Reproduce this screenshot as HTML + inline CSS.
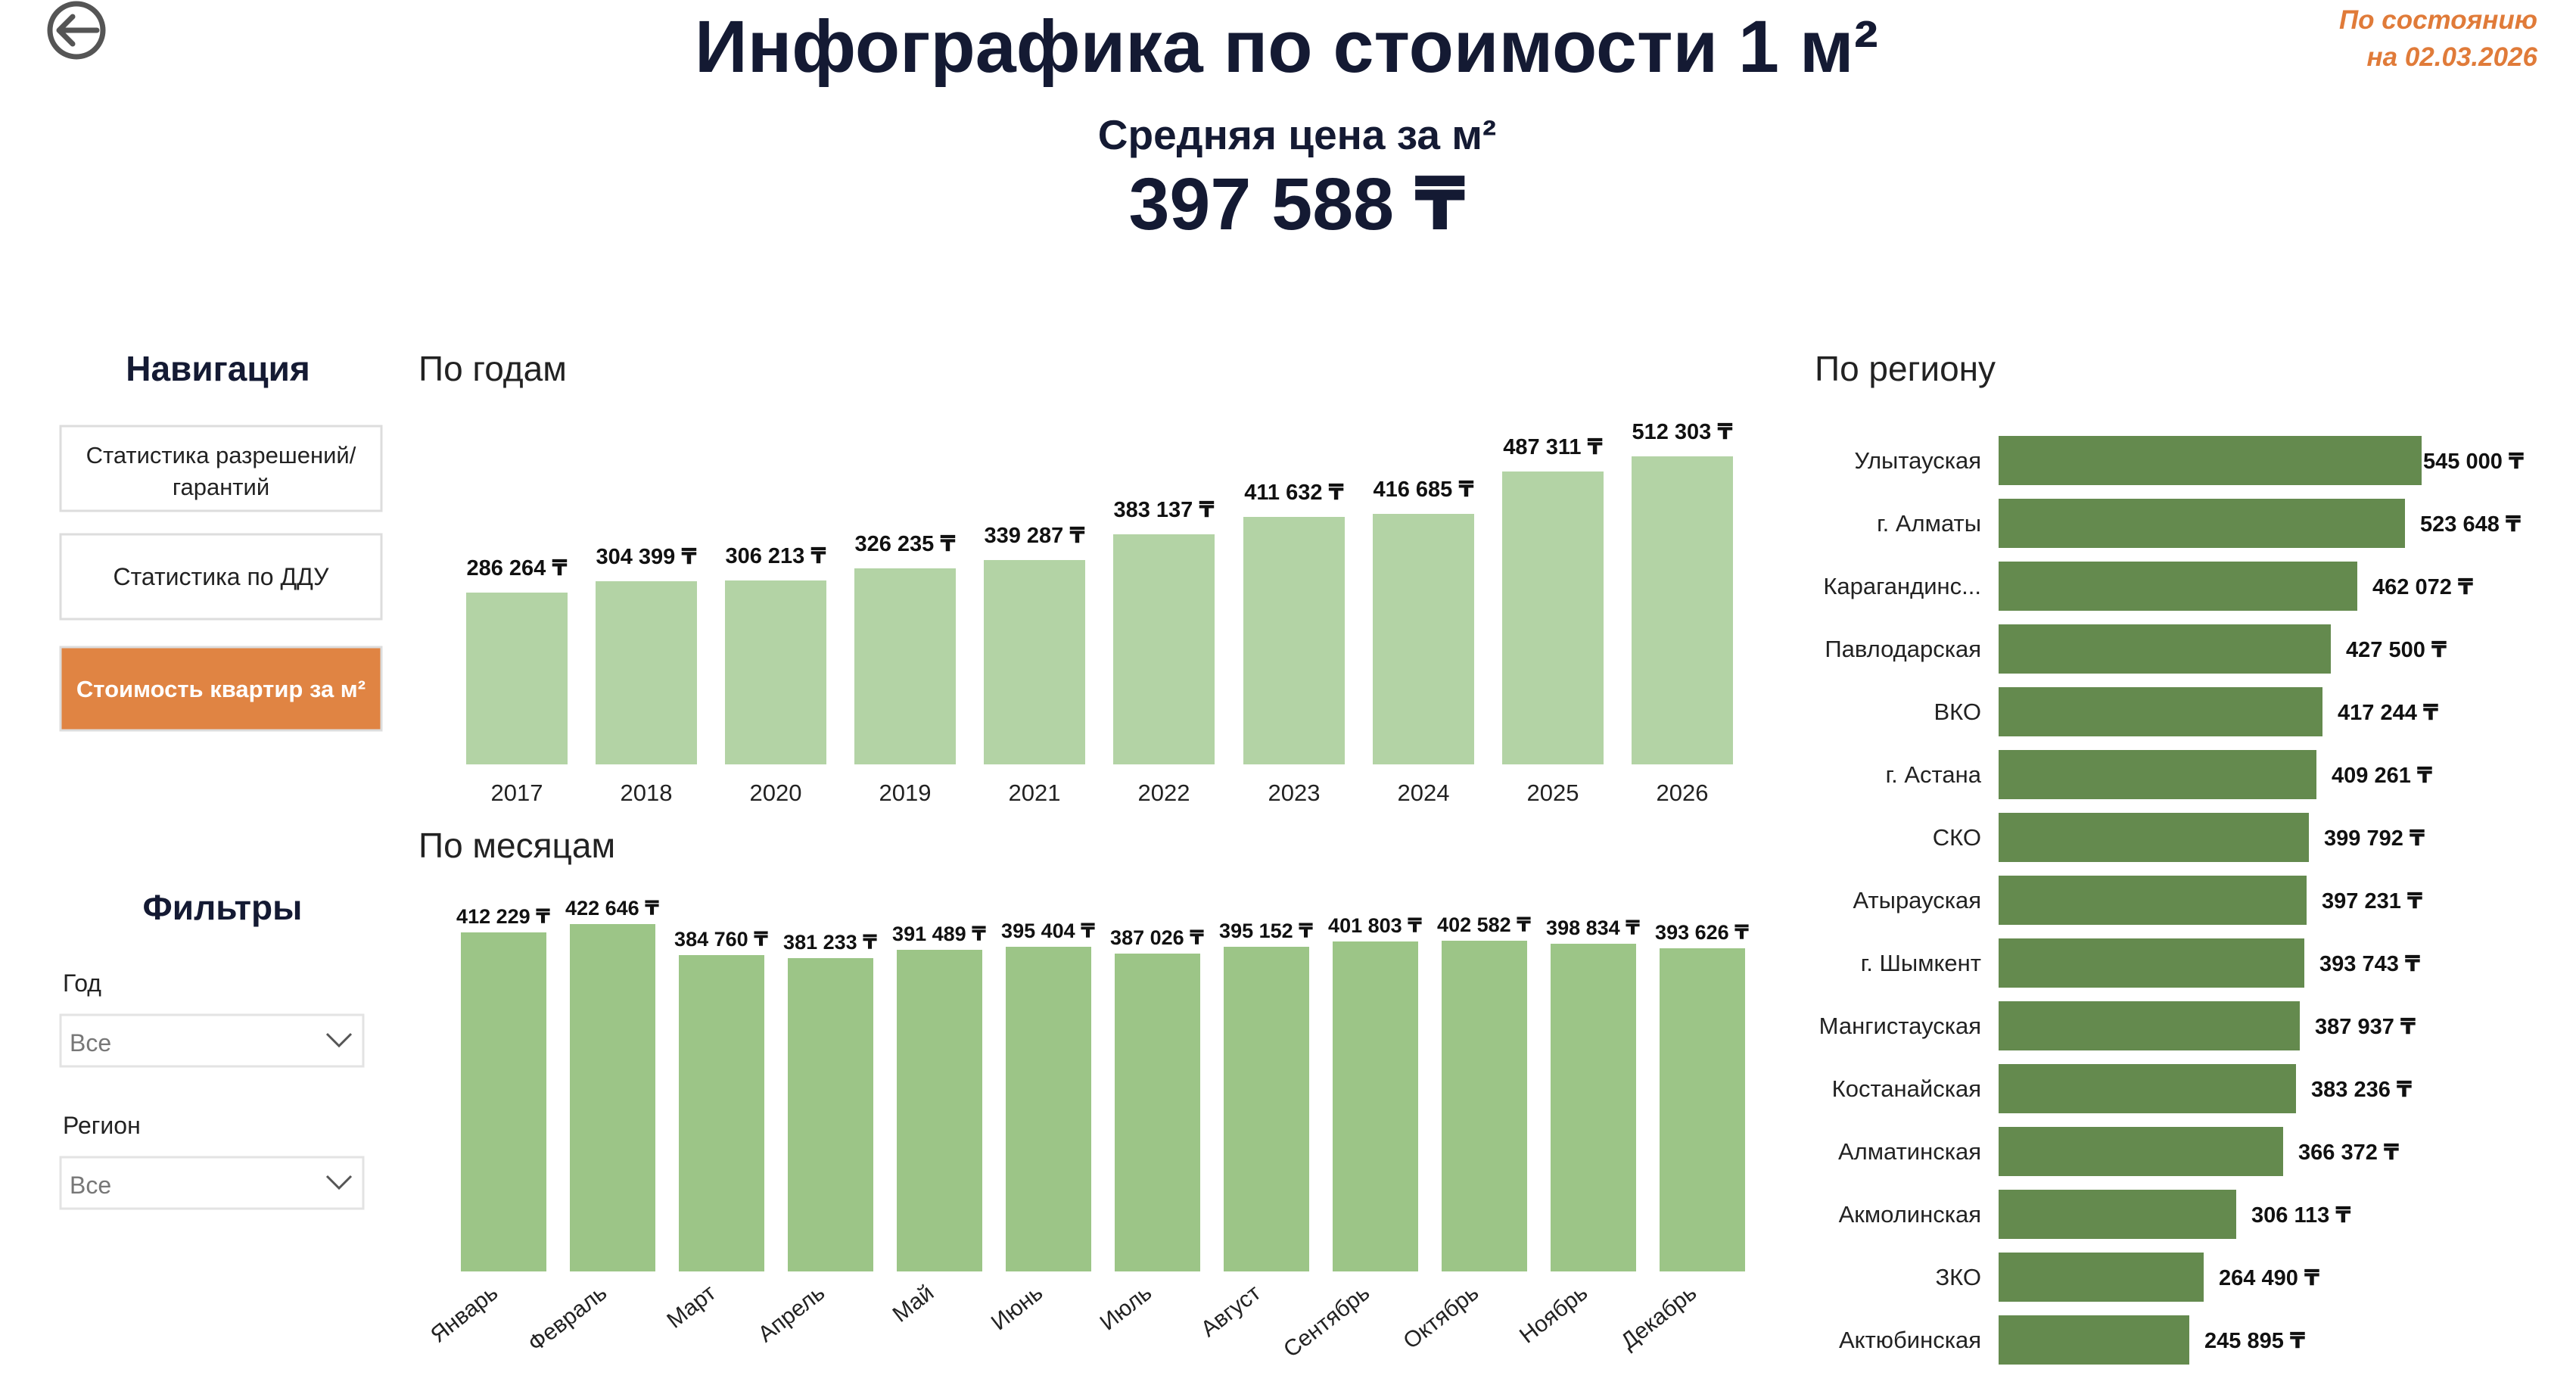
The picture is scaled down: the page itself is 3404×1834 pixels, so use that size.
<!DOCTYPE html>
<html><head><meta charset="utf-8"><style>
html,body{margin:0;padding:0;background:#fff;}
svg{display:block;font-family:"Liberation Sans","DejaVu Sans",sans-serif;}
</style></head><body>
<svg width="3404" height="1834" viewBox="0 0 3404 1834" xmlns="http://www.w3.org/2000/svg">
<circle cx="101" cy="40" r="35" fill="none" stroke="#555" stroke-width="7"/>
<path d="M128 40 H78 M96 22 L78 40 L96 58" fill="none" stroke="#555" stroke-width="7" stroke-linecap="round" stroke-linejoin="round"/>
<text x="1700" y="95" text-anchor="middle" font-size="97" font-weight="bold" fill="#141a33">Инфографика по стоимости 1 м²</text>
<text x="1714" y="197" text-anchor="middle" font-size="55" font-weight="bold" fill="#141a33">Средняя цена за м²</text>
<text x="1714" y="303" text-anchor="middle" font-size="97" font-weight="bold" fill="#141a33">397 588 ₸</text>
<text x="3353" y="38" text-anchor="end" font-size="35" font-weight="bold" font-style="italic" fill="#e07b39">По состоянию</text>
<text x="3353" y="87" text-anchor="end" font-size="35" font-weight="bold" font-style="italic" fill="#e07b39">на 02.03.2026</text>

<text x="288" y="503" text-anchor="middle" font-size="46" font-weight="bold" fill="#141a33">Навигация</text>
<rect x="80" y="563" width="424" height="112" fill="#fff" stroke="#ddd" stroke-width="3"/>
<text x="292" y="612" text-anchor="middle" font-size="31" fill="#222">Статистика разрешений/</text>
<text x="292" y="654" text-anchor="middle" font-size="31" fill="#222">гарантий</text>
<rect x="80" y="706" width="424" height="112" fill="#fff" stroke="#ddd" stroke-width="3"/>
<text x="292" y="773" text-anchor="middle" font-size="32" fill="#222">Статистика по ДДУ</text>
<rect x="80" y="855" width="424" height="110" fill="#e08443" stroke="#ddd" stroke-width="3"/>
<text x="292" y="921" text-anchor="middle" font-size="31" font-weight="bold" fill="#fff">Стоимость квартир за м²</text>

<text x="294" y="1215" text-anchor="middle" font-size="46" font-weight="bold" fill="#141a33">Фильтры</text>
<text x="83" y="1310" font-size="32" fill="#222">Год</text>
<rect x="80" y="1341" width="400" height="68" fill="#fff" stroke="#e3e3e3" stroke-width="3"/>
<text x="92" y="1389" font-size="32" fill="#777">Все</text>
<path d="M432 1366 L448 1382 L464 1366" fill="none" stroke="#555" stroke-width="3"/>
<text x="83" y="1498" font-size="32" fill="#222">Регион</text>
<rect x="80" y="1529" width="400" height="68" fill="#fff" stroke="#e3e3e3" stroke-width="3"/>
<text x="92" y="1577" font-size="32" fill="#777">Все</text>
<path d="M432 1554 L448 1570 L464 1554" fill="none" stroke="#555" stroke-width="3"/>

<text x="553" y="503" font-size="46" fill="#222">По годам</text>
<text x="553" y="1133" font-size="46" fill="#222">По месяцам</text>
<text x="2398" y="503" font-size="46" fill="#222">По региону</text>

<g fill="#b3d3a5">
<rect x="616" y="783" width="134" height="227"/>
<rect x="787" y="768" width="134" height="242"/>
<rect x="958" y="767" width="134" height="243"/>
<rect x="1129" y="751" width="134" height="259"/>
<rect x="1300" y="740" width="134" height="270"/>
<rect x="1471" y="706" width="134" height="304"/>
<rect x="1643" y="683" width="134" height="327"/>
<rect x="1814" y="679" width="134" height="331"/>
<rect x="1985" y="623" width="134" height="387"/>
<rect x="2156" y="603" width="134" height="407"/>
</g>
<g font-size="29" font-weight="bold" text-anchor="middle" fill="#111">
<text x="683" y="760">286 264 ₸</text>
<text x="854" y="745">304 399 ₸</text>
<text x="1025" y="744">306 213 ₸</text>
<text x="1196" y="728">326 235 ₸</text>
<text x="1367" y="717">339 287 ₸</text>
<text x="1538" y="683">383 137 ₸</text>
<text x="1710" y="660">411 632 ₸</text>
<text x="1881" y="656">416 685 ₸</text>
<text x="2052" y="600">487 311 ₸</text>
<text x="2223" y="580">512 303 ₸</text>
</g>
<g font-size="31" text-anchor="middle" fill="#222">
<text x="683" y="1058">2017</text><text x="854" y="1058">2018</text><text x="1025" y="1058">2020</text>
<text x="1196" y="1058">2019</text><text x="1367" y="1058">2021</text><text x="1538" y="1058">2022</text>
<text x="1710" y="1058">2023</text><text x="1881" y="1058">2024</text><text x="2052" y="1058">2025</text>
<text x="2223" y="1058">2026</text>
</g>

<g fill="#9cc587">
<rect x="609" y="1232" width="113" height="448"/>
<rect x="753" y="1221" width="113" height="459"/>
<rect x="897" y="1262" width="113" height="418"/>
<rect x="1041" y="1266" width="113" height="414"/>
<rect x="1185" y="1255" width="113" height="425"/>
<rect x="1329" y="1251" width="113" height="429"/>
<rect x="1473" y="1260" width="113" height="420"/>
<rect x="1617" y="1251" width="113" height="429"/>
<rect x="1761" y="1244" width="113" height="436"/>
<rect x="1905" y="1243" width="113" height="437"/>
<rect x="2049" y="1247" width="113" height="433"/>
<rect x="2193" y="1253" width="113" height="427"/>
</g>
<g font-size="27" font-weight="bold" text-anchor="middle" fill="#111">
<text x="665" y="1220">412 229 ₸</text>
<text x="809" y="1209">422 646 ₸</text>
<text x="953" y="1250">384 760 ₸</text>
<text x="1097" y="1254">381 233 ₸</text>
<text x="1241" y="1243">391 489 ₸</text>
<text x="1385" y="1239">395 404 ₸</text>
<text x="1529" y="1248">387 026 ₸</text>
<text x="1673" y="1239">395 152 ₸</text>
<text x="1817" y="1232">401 803 ₸</text>
<text x="1961" y="1231">402 582 ₸</text>
<text x="2105" y="1235">398 834 ₸</text>
<text x="2249" y="1241">393 626 ₸</text>
</g>
<g font-size="30" text-anchor="end" fill="#222">
<text transform="translate(660,1712) rotate(-38)">Январь</text>
<text transform="translate(804,1712) rotate(-38)">Февраль</text>
<text transform="translate(948,1712) rotate(-38)">Март</text>
<text transform="translate(1092,1712) rotate(-38)">Апрель</text>
<text transform="translate(1236,1712) rotate(-38)">Май</text>
<text transform="translate(1380,1712) rotate(-38)">Июнь</text>
<text transform="translate(1524,1712) rotate(-38)">Июль</text>
<text transform="translate(1668,1712) rotate(-38)">Август</text>
<text transform="translate(1812,1712) rotate(-38)">Сентябрь</text>
<text transform="translate(1956,1712) rotate(-38)">Октябрь</text>
<text transform="translate(2100,1712) rotate(-38)">Ноябрь</text>
<text transform="translate(2244,1712) rotate(-38)">Декабрь</text>
</g>

<g fill="#648a4e">
<rect x="2641" y="576" width="559" height="65"/>
<rect x="2641" y="659" width="537" height="65"/>
<rect x="2641" y="742" width="474" height="65"/>
<rect x="2641" y="825" width="439" height="65"/>
<rect x="2641" y="908" width="428" height="65"/>
<rect x="2641" y="991" width="420" height="65"/>
<rect x="2641" y="1074" width="410" height="65"/>
<rect x="2641" y="1157" width="407" height="65"/>
<rect x="2641" y="1240" width="404" height="65"/>
<rect x="2641" y="1323" width="398" height="65"/>
<rect x="2641" y="1406" width="393" height="65"/>
<rect x="2641" y="1489" width="376" height="65"/>
<rect x="2641" y="1572" width="314" height="65"/>
<rect x="2641" y="1655" width="271" height="65"/>
<rect x="2641" y="1738" width="252" height="65"/>
</g>
<g font-size="31" text-anchor="end" fill="#222">
<text x="2618" y="619">Улытауская</text>
<text x="2618" y="702">г. Алматы</text>
<text x="2618" y="785">Карагандинс...</text>
<text x="2618" y="868">Павлодарская</text>
<text x="2618" y="951">ВКО</text>
<text x="2618" y="1034">г. Астана</text>
<text x="2618" y="1117">СКО</text>
<text x="2618" y="1200">Атырауская</text>
<text x="2618" y="1283">г. Шымкент</text>
<text x="2618" y="1366">Мангистауская</text>
<text x="2618" y="1449">Костанайская</text>
<text x="2618" y="1532">Алматинская</text>
<text x="2618" y="1615">Акмолинская</text>
<text x="2618" y="1698">ЗКО</text>
<text x="2618" y="1781">Актюбинская</text>
</g>
<g font-size="29" font-weight="bold" fill="#111">
<text x="3202" y="619">545 000 ₸</text>
<text x="3198" y="702">523 648 ₸</text>
<text x="3135" y="785">462 072 ₸</text>
<text x="3100" y="868">427 500 ₸</text>
<text x="3089" y="951">417 244 ₸</text>
<text x="3081" y="1034">409 261 ₸</text>
<text x="3071" y="1117">399 792 ₸</text>
<text x="3068" y="1200">397 231 ₸</text>
<text x="3065" y="1283">393 743 ₸</text>
<text x="3059" y="1366">387 937 ₸</text>
<text x="3054" y="1449">383 236 ₸</text>
<text x="3037" y="1532">366 372 ₸</text>
<text x="2975" y="1615">306 113 ₸</text>
<text x="2932" y="1698">264 490 ₸</text>
<text x="2913" y="1781">245 895 ₸</text>
</g>
</svg>
</body></html>
